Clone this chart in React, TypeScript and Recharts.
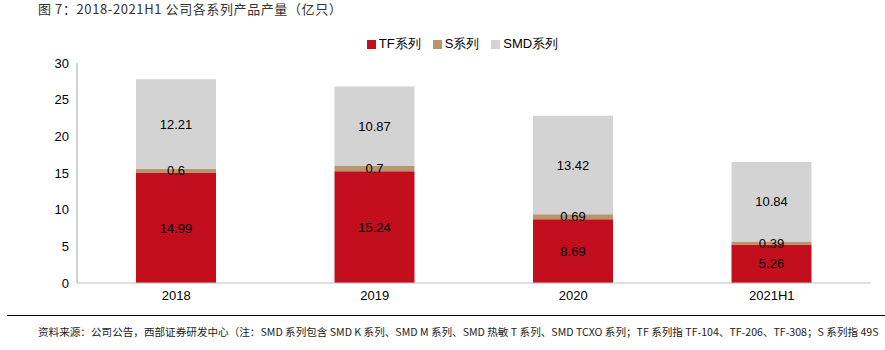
import { Bar, BarChart, LabelList, XAxis, YAxis } from "recharts";

const categories = ["2018", "2019", "2020", "2021H1"];
const tfValues = [14.99, 15.24, 8.69, 5.26];
const sValues = [0.6, 0.7, 0.69, 0.39];
const smdValues = [12.21, 10.87, 13.42, 10.84];
const yTicks = [0, 5, 10, 15, 20, 25, 30];

const series = [
  { key: "tf", name: "TF系列", color: "#C20E1D" },
  { key: "s", name: "S系列", color: "#B8956D" },
  { key: "smd", name: "SMD系列", color: "#D3D3D3" },
];

const data = categories.map((category, i) => ({
  category,
  tf: tfValues[i],
  s: sValues[i],
  smd: smdValues[i],
}));

const sans = "'Liberation Sans', Arial, sans-serif";
const cjk = "'Noto Sans CJK SC', sans-serif";

export default function App() {
  return (
    <div style={{ position: "absolute", left: 0, top: 0, width: 885, height: 350, background: "#fff", overflow: "hidden" }}>
      <div style={{ position: "absolute", left: 38, top: 0, fontSize: 13, lineHeight: "17px", letterSpacing: 0.6, color: "#333", fontFamily: cjk, whiteSpace: "nowrap" }}>
        图 7：2018-2021H1 公司各系列产品产量（亿只）
      </div>

      <div style={{ position: "absolute", top: 36, left: 0, width: 885, display: "flex", justifyContent: "center", paddingLeft: 40, boxSizing: "border-box", fontSize: 13, color: "#000", fontFamily: sans }}>
        {series.map((s) => (
          <div key={s.key} style={{ display: "flex", alignItems: "center", margin: "0 6px", lineHeight: "16px" }}>
            <span style={{ display: "inline-block", width: 9, height: 9, background: s.color, marginRight: 3 }} />
            <span>{s.name}</span>
          </div>
        ))}
      </div>

      <div style={{ position: "absolute", left: 0, top: 0 }}>
        <BarChart width={885} height={316} data={data} margin={{ top: 63, right: 14, bottom: 3, left: 0 }}>
          <XAxis
            dataKey="category"
            tickLine={false}
            axisLine={{ stroke: "#BFBFBF" }}
            tick={{ fontSize: 13, fill: "#000", fontFamily: sans }}
          />
          <YAxis
            width={77}
            domain={[0, 30]}
            ticks={yTicks}
            interval={0}
            tickLine={false}
            axisLine={{ stroke: "#A6A6A6" }}
            tick={{ fontSize: 13, fill: "#000", fontFamily: sans }}
          />
          {series.map((s) => (
            <Bar key={s.key} dataKey={s.key} name={s.name} stackId="a" fill={s.color} barSize={80} isAnimationActive={false}>
              <LabelList dataKey={s.key} position="center" fill="#000" fontSize={13} fontFamily={sans} />
            </Bar>
          ))}
        </BarChart>
      </div>

      <div style={{ position: "absolute", left: 7, right: 0, top: 315, borderTop: "1px solid #000" }} />
      <div style={{ position: "absolute", left: 38, top: 325, whiteSpace: "nowrap", fontSize: 10.6, lineHeight: "14px", color: "#222", fontFamily: cjk }}>
        资料来源：公司公告，西部证券研发中心（注：SMD 系列包含 SMD K 系列、SMD M 系列、SMD 热敏 T 系列、SMD TCXO 系列；TF 系列指 TF-104、TF-206、TF-308；S 系列指 49S
      </div>
    </div>
  );
}
